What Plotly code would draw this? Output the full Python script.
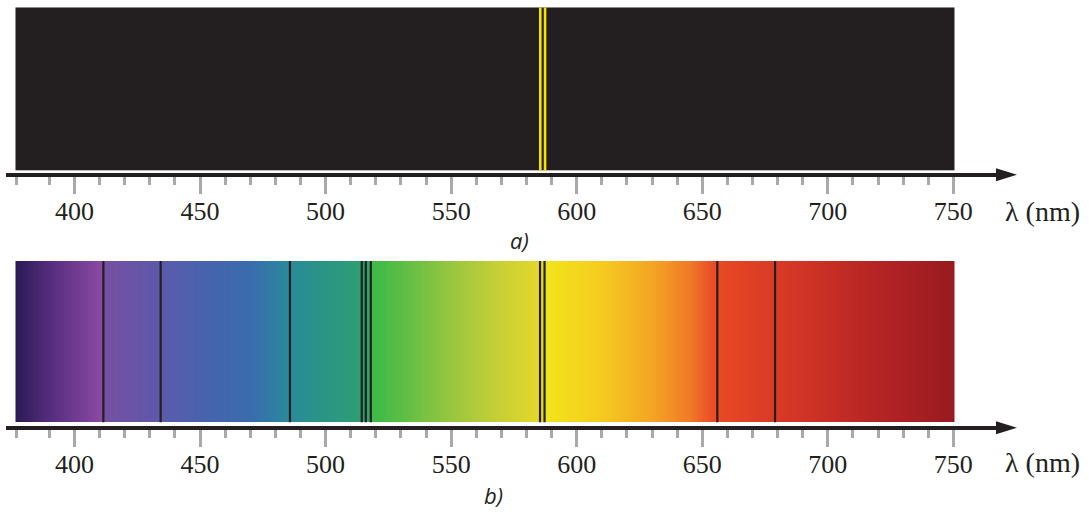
import numpy as np
import plotly.graph_objects as go

# wavelength span of the two spectrum strips (nm)
spectrum_start = 376.5
spectrum_end = 750.5

# a) emission spectrum: sodium doublet
emission_lines = [585.5, 587.4]

# b) absorption lines on the continuous spectrum
absorption_lines = [411.5, 434.3, 485.8, 514.4, 516.0, 518.0, 585.4, 587.2, 656.0, 679.0]

# colour stops of the continuous spectrum
gradient_nm = [376.5, 392, 410.5, 412, 434, 436, 455, 470, 480, 486, 500, 517, 518.5,
               530, 550, 570, 586, 588, 610, 630, 645, 654, 660, 680, 700, 725, 750.5]
gradient_colors = ["#2b1a55", "#5a2f82", "#8a48a2", "#7650a2", "#5d58aa", "#5a5cab",
                   "#4464ae", "#3a6cad", "#2f7ea4", "#2a8a98", "#2a9585", "#2ea06e",
                   "#3cba48", "#5abd45", "#98c640", "#c9d035", "#e5d82a", "#f2e41c",
                   "#f5cb20", "#f4a524", "#f07a28", "#ea4e26", "#e54623", "#d83a26",
                   "#c72e25", "#b02224", "#981a20"]

major_ticks = [400, 450, 500, 550, 600, 650, 700, 750]
minor_ticks = [377, 390, 410, 420, 430, 440, 460, 470, 480, 490, 510, 520, 530, 540,
               560, 570, 580, 590, 610, 620, 630, 640, 660, 670, 680, 690, 710, 720,
               730, 740]

W, H = 1089, 514
PX0, NM0, PX_PER_NM = 74.5, 400, 2.511


def nm_at(px):
    return NM0 + (px - PX0) / PX_PER_NM


def px_(px):
    return px / W


def py(px):
    return (H - px) / H


ink = "#231f20"
tick_grey = "#a7a9ac"
axis_left, axis_right, arrow_tip = 6, 1000, 1017

# panel geometry in pixels: strip top, strip bottom, axis line top, label centre
panels = [(7.3, 170.7, 172.7, 211), (261.0, 422.3, 425.7, 462)]

fig = go.Figure()

# colorscale for the continuous spectrum
span = spectrum_end - spectrum_start
colorscale = [[(n - spectrum_start) / span, c] for n, c in zip(gradient_nm, gradient_colors)]

edges = np.linspace(spectrum_start, spectrum_end, 749)
mids = (edges[:-1] + edges[1:]) / 2

layout_axes = {}
for i, (top, bottom, line_top, label_y) in enumerate(panels):
    sfx = "" if i == 0 else str(i + 1)
    gap = (line_top - bottom) / (line_top - top)

    if i == 0:
        fig.add_trace(go.Heatmap(
            x=[spectrum_start, spectrum_end], y=[gap, 1], z=[[0]],
            colorscale=[[0, ink], [1, ink]], showscale=False, hoverinfo="skip",
            xaxis="x" + sfx, yaxis="y" + sfx))
        lx, ly = [], []
        for n in emission_lines:
            lx += [n, n, None]
            ly += [gap, 1, None]
        fig.add_trace(go.Scatter(x=lx, y=ly, mode="lines",
                                 line=dict(color="#f4e400", width=2.6),
                                 hoverinfo="skip", xaxis="x" + sfx, yaxis="y" + sfx))
    else:
        fig.add_trace(go.Heatmap(
            x=edges, y=[gap, 1], z=[mids], zmin=spectrum_start, zmax=spectrum_end,
            colorscale=colorscale, showscale=False, hoverinfo="skip",
            xaxis="x" + sfx, yaxis="y" + sfx))
        lx, ly = [], []
        for n in absorption_lines:
            lx += [n, n, None]
            ly += [gap, 1, None]
        fig.add_trace(go.Scatter(x=lx, y=ly, mode="lines",
                                 line=dict(color=ink, width=2.2),
                                 hoverinfo="skip", xaxis="x" + sfx, yaxis="y" + sfx))

    layout_axes["xaxis" + sfx] = dict(
        domain=[axis_left / W, axis_right / W],
        range=[nm_at(axis_left), nm_at(axis_right)],
        anchor="y" + sfx,
        showline=True, linewidth=4, linecolor=ink,
        showgrid=False, zeroline=False,
        ticks="outside", tickvals=major_ticks, ticklen=17, tickwidth=3,
        tickcolor=tick_grey, ticklabelstandoff=-5,
        minor=dict(tickvals=minor_ticks, ticks="outside", ticklen=8,
                   tickwidth=2.5, tickcolor=tick_grey, showgrid=False),
        tickfont=dict(family="Liberation Serif", size=26, color=ink),
        fixedrange=True,
    )
    if i > 0:
        layout_axes["xaxis" + sfx]["matches"] = "x"
    layout_axes["yaxis" + sfx] = dict(
        domain=[py(line_top), py(top)], range=[0, 1], visible=False, fixedrange=True)

    # arrow head at the end of the axis
    mid = line_top + 2
    fig.add_shape(type="path", xref="paper", yref="paper",
                  path=(f"M {px_(996)},{py(mid - 6.5)} L {px_(arrow_tip)},{py(mid)} "
                        f"L {px_(996)},{py(mid + 6.5)} Z"),
                  fillcolor=ink, line=dict(width=0))

    # axis title
    fig.add_annotation(text="λ (nm)", xref="paper", yref="paper",
                       x=px_(1042), y=py(label_y), xanchor="center", yanchor="middle",
                       showarrow=False,
                       font=dict(family="Liberation Serif", size=28, color=ink))

fig.add_annotation(text="<i>a)</i>", xref="paper", yref="paper", x=px_(519), y=py(240),
                   xanchor="center", yanchor="middle", showarrow=False,
                   font=dict(family="Open Sans", size=22, color=ink))
fig.add_annotation(text="<i>b)</i>", xref="paper", yref="paper", x=px_(493), y=py(495),
                   xanchor="center", yanchor="middle", showarrow=False,
                   font=dict(family="Open Sans", size=22, color=ink))

fig.update_layout(
    width=W, height=H,
    margin=dict(l=0, r=0, t=0, b=0),
    paper_bgcolor="white", plot_bgcolor="rgba(0,0,0,0)",
    showlegend=False,
    **layout_axes,
)

fig.write_html("out.html", config={"displayModeBar": False},
               post_script="document.body.style.margin = '0';")
